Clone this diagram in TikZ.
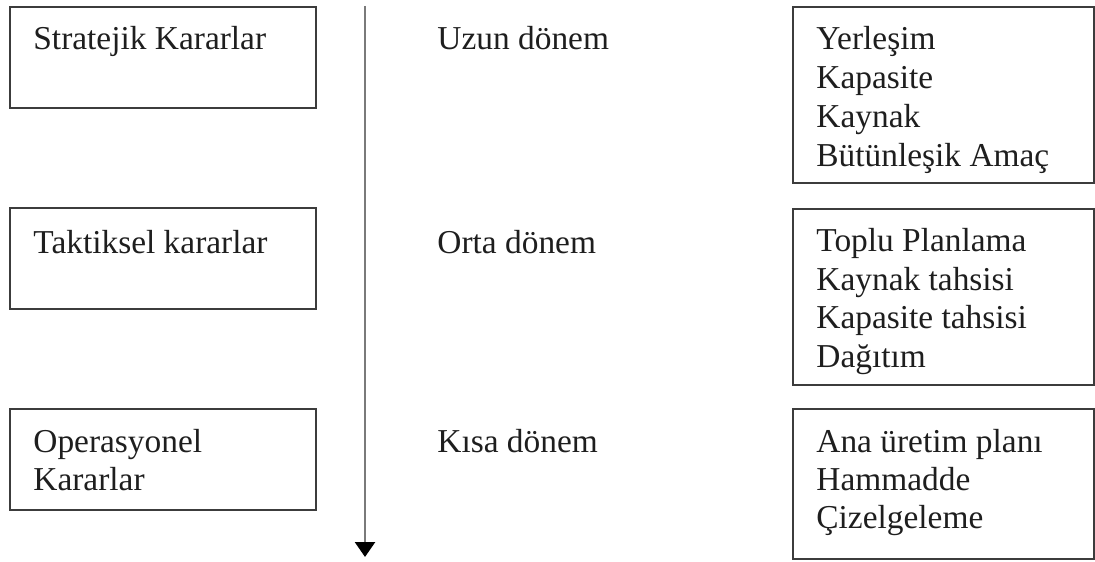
\documentclass[tikz,border=0pt]{standalone}
\usepackage{fontspec}
\setmainfont{Liberation Serif}
\usetikzlibrary{arrows.meta,fit}
\definecolor{boxgray}{HTML}{3C3C3C}
\definecolor{linegray}{HTML}{7A7A7A}
\definecolor{textdark}{HTML}{1E1E1E}
\begin{document}
\begin{tikzpicture}[x=0.5pt,y=-0.5pt,
  box/.style={draw=boxgray,line width=1pt,inner sep=0pt},
  txt/.style={anchor=base west,inner sep=0pt,font=\fontsize{16.7}{20}\selectfont,text=textdark},
  timeline/.style={draw=linegray,line width=1.3pt,-{Triangle[width=10pt,length=7.5pt,color=black,fill=black]}}]
\useasboundingbox (0,0) rectangle (1095,561);

% decision levels (left column)
\node[box,fit={(10,7) (316,108)}] (L1) {};
\node[box,fit={(10,208) (316,309)}] (L2) {};
\node[box,fit={(10,409) (316,510)}] (L3) {};
\node[txt] (L1a) at (33,50) {Stratejik Kararlar};
\node[txt] (L2a) at (33,253) {Taktiksel kararlar};
\node[txt] (L3a) at (33,452) {Operasyonel};
\node[txt] (L3b) at (33,490) {Kararlar};

% time axis
\coordinate (tTop) at (365,6);
\coordinate (tBot) at (365,557);
\draw[timeline] (tTop) -- (tBot);

% planning horizons (middle column)
\node[txt] (M1) at (437,50) {Uzun dönem};
\node[txt] (M2) at (437,253) {Orta dönem};
\node[txt] (M3) at (437,452) {Kısa dönem};

% decision contents (right column)
\node[box,fit={(793,7) (1094,183)}] (R1) {};
\node[box,fit={(793,209) (1094,385)}] (R2) {};
\node[box,fit={(793,409) (1094,559)}] (R3) {};

\node[txt] (R1a) at (816,50) {Yerleşim};
\node[txt] (R1b) at (816,89) {Kapasite};
\node[txt] (R1c) at (816,128) {Kaynak};
\node[txt] (R1d) at (816,167) {Bütünleşik Amaç};

\node[txt] (R2a) at (816,251) {Toplu Planlama};
\node[txt] (R2b) at (816,290) {Kaynak tahsisi};
\node[txt] (R2c) at (816,328) {Kapasite tahsisi};
\node[txt] (R2d) at (816,367) {Dağıtım};

\node[txt] (R3a) at (816,452) {Ana üretim planı};
\node[txt] (R3b) at (816,490) {Hammadde};
\node[txt] (R3c) at (816,528) {Çizelgeleme};
\end{tikzpicture}
\end{document}
